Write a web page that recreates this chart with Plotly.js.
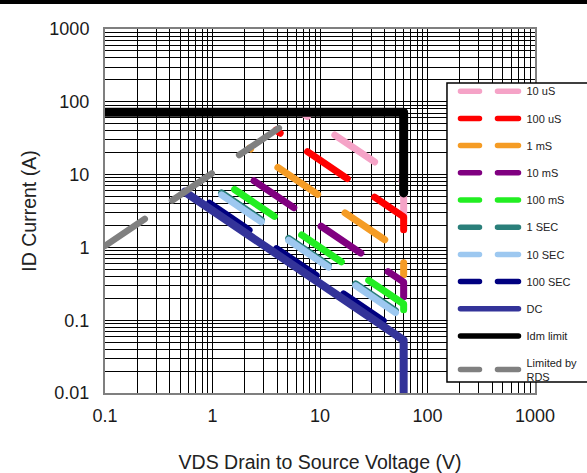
<!DOCTYPE html>
<html><head><meta charset="utf-8">
<script src="https://cdn.plot.ly/plotly-3.0.1.min.js"></script>
<style>
html,body{margin:0;padding:0;background:#fff;}
#wrap{position:relative;width:587px;height:473px;}
#chart{width:587px;height:473px;}
#toprule{position:absolute;left:0;top:0;width:587px;height:4px;background:#000;}
.scatterlayer path.js-line{stroke-linecap:round;stroke-linejoin:round;}
.legend path.js-line{stroke-linecap:round;stroke-width:5.5px !important;stroke-dasharray:58px,300px !important;}
.legend g.legendlines{transform:translate(7px,0);}
.legend g.legendlines path.js-line[style*="48px"]{stroke-dasharray:19px,18px,21px,300px !important;}
</style></head><body><div id="wrap"><div id="chart"></div><div id="toprule"></div></div>
<script>
// ---- data ----
const seriesNames = ['10 uS','100 uS','1 mS','10 mS','100 mS','1 SEC','10 SEC','100 SEC','DC','Idm limit','Limited by<br>RDS'];
const us10X  = [6.76, 60, 60];   const us10Y  = [71, 8.0, 2.5];
const us100X = [3.88, 60, 60];   const us100Y = [40.7, 2.63, 1.5];
const ms1X   = [2.2, 60, 60];    const ms1Y   = [23.1, 0.85, 0.42];
const ms10X  = [1.38, 60, 60];   const ms10Y  = [14.5, 0.333, 0.21];
const ms100X = [0.976, 60, 60];  const ms100Y = [10.25, 0.167, 0.12];
const sec1X  = [0.805, 60];      const sec1Y  = [8.45, 0.113];
const sec10X = [0.78, 60];       const sec10Y = [8.2, 0.107];
const sec100X= [0.6, 60, 60];    const sec100Y= [6.3, 0.0633, 0.02];
const dcX    = [0.552, 60, 60];  const dcY    = [5.8, 0.0533, 0.01];
const idmX   = [0.1, 60, 60];    const idmY   = [72, 72, 5.6];
const rdsX   = [0.1, 6.86];      const rdsY   = [1.05, 72];
const xTickVals = [0.1, 1, 10, 100, 1000];
const xTickText = ['0.1', '1', '10', '100', '1000'];
const yTickVals = [0.01, 0.1, 1, 10, 100, 1000];
const yTickText = ['0.01', '0.1', '1', '10', '100', '1000'];

// ---- styles ----
const seriesX = [us10X, us100X, ms1X, ms10X, ms100X, sec1X, sec10X, sec100X, dcX, idmX, rdsX];
const seriesY = [us10Y, us100Y, ms1Y, ms10Y, ms100Y, sec1Y, sec10Y, sec100Y, dcY, idmY, rdsY];
const colors = ['#f5a3c7','#ff0000','#f59c25','#800080','#22ee22','#2a7f7a','#9dc8f0','#000080','#333399','#000000','#808080'];
const widths = [7,7,7,7,7,7,7,7,8,9,6.5];
const DASH = '48px,33px';
const dashes = [DASH,DASH,DASH,DASH,DASH,DASH,DASH,DASH,'solid','solid',DASH];
const dashOffsets = [41, 42.7, 46.5, 49, 53, 57.8, 56, 56, 0, 0, 0];

let css = '';
dashOffsets.forEach((o, i) => {
  css += `.scatterlayer .trace:nth-child(${i+1}) path.js-line{stroke-dashoffset:${o}px;}`;
});
const st = document.createElement('style'); st.textContent = css; document.head.appendChild(st);

const traces = seriesNames.map((n, i) => ({
  type: 'scatter', mode: 'lines', name: n, x: seriesX[i], y: seriesY[i],
  legendgroup: 'g' + i,
  line: {color: colors[i], width: widths[i], dash: dashes[i]},
  hoverinfo: 'skip'
}));

const FONT = 'Arial, "Liberation Sans", sans-serif';
const gridBlack = '#000000';
const layout = {
  width: 587, height: 473,
  margin: {l: 105, r: 52, t: 29, b: 80, autoexpand: false},
  paper_bgcolor: '#fff', plot_bgcolor: '#fff',
  font: {family: FONT, color: '#1a1a1a'},
  showlegend: true,
  legend: {
    x: 0.7988, y: 0.869, xanchor: 'left', yanchor: 'top',
    bgcolor: 'rgba(0,0,0,0)', borderwidth: 0,
    font: {family: FONT, size: 11, color: '#222'},
    itemwidth: 68, tracegroupgap: 8.2
  },
  xaxis: {
    type: 'log', range: [-1, 3],
    tickmode: 'array', tickvals: xTickVals, ticktext: xTickText,
    ticks: 'outside', ticklen: 5, tickcolor: 'rgba(0,0,0,0)',
    tickfont: {size: 18, family: FONT, color: '#1a1a1a'},
    showgrid: true, gridcolor: gridBlack, gridwidth: 1,
    minor: {dtick: 'D1', showgrid: true, gridcolor: gridBlack, gridwidth: 1},
    showline: true, linecolor: '#7f7f7f', linewidth: 2, mirror: true,
    zeroline: false,
    title: {text: 'VDS Drain to Source Voltage (V)', font: {size: 19.5, family: FONT, color: '#222'}, standoff: 31}
  },
  yaxis: {
    type: 'log', range: [-2, 3],
    tickmode: 'array', tickvals: yTickVals, ticktext: yTickText,
    ticks: 'outside', ticklen: 10, tickcolor: 'rgba(0,0,0,0)',
    tickfont: {size: 18, family: FONT, color: '#1a1a1a'},
    showgrid: true, gridcolor: gridBlack, gridwidth: 1,
    minor: {dtick: 'D1', showgrid: true, gridcolor: gridBlack, gridwidth: 1},
    showline: true, linecolor: '#7f7f7f', linewidth: 2, mirror: true,
    zeroline: false,
    title: {text: 'ID Current (A)', font: {size: 19.5, family: FONT, color: '#222'}, standoff: 8}
  },
  shapes: [{
    type: 'rect', xref: 'paper', yref: 'paper', layer: 'above',
    x0: 0.7953, x1: 1.16, y0: 0.0302, y1: 0.8516,
    fillcolor: '#ffffff', line: {color: '#000', width: 1.5}
  }]
};

Plotly.newPlot('chart', traces, layout, {staticPlot: true, displayModeBar: false});
</script>
</body></html>
